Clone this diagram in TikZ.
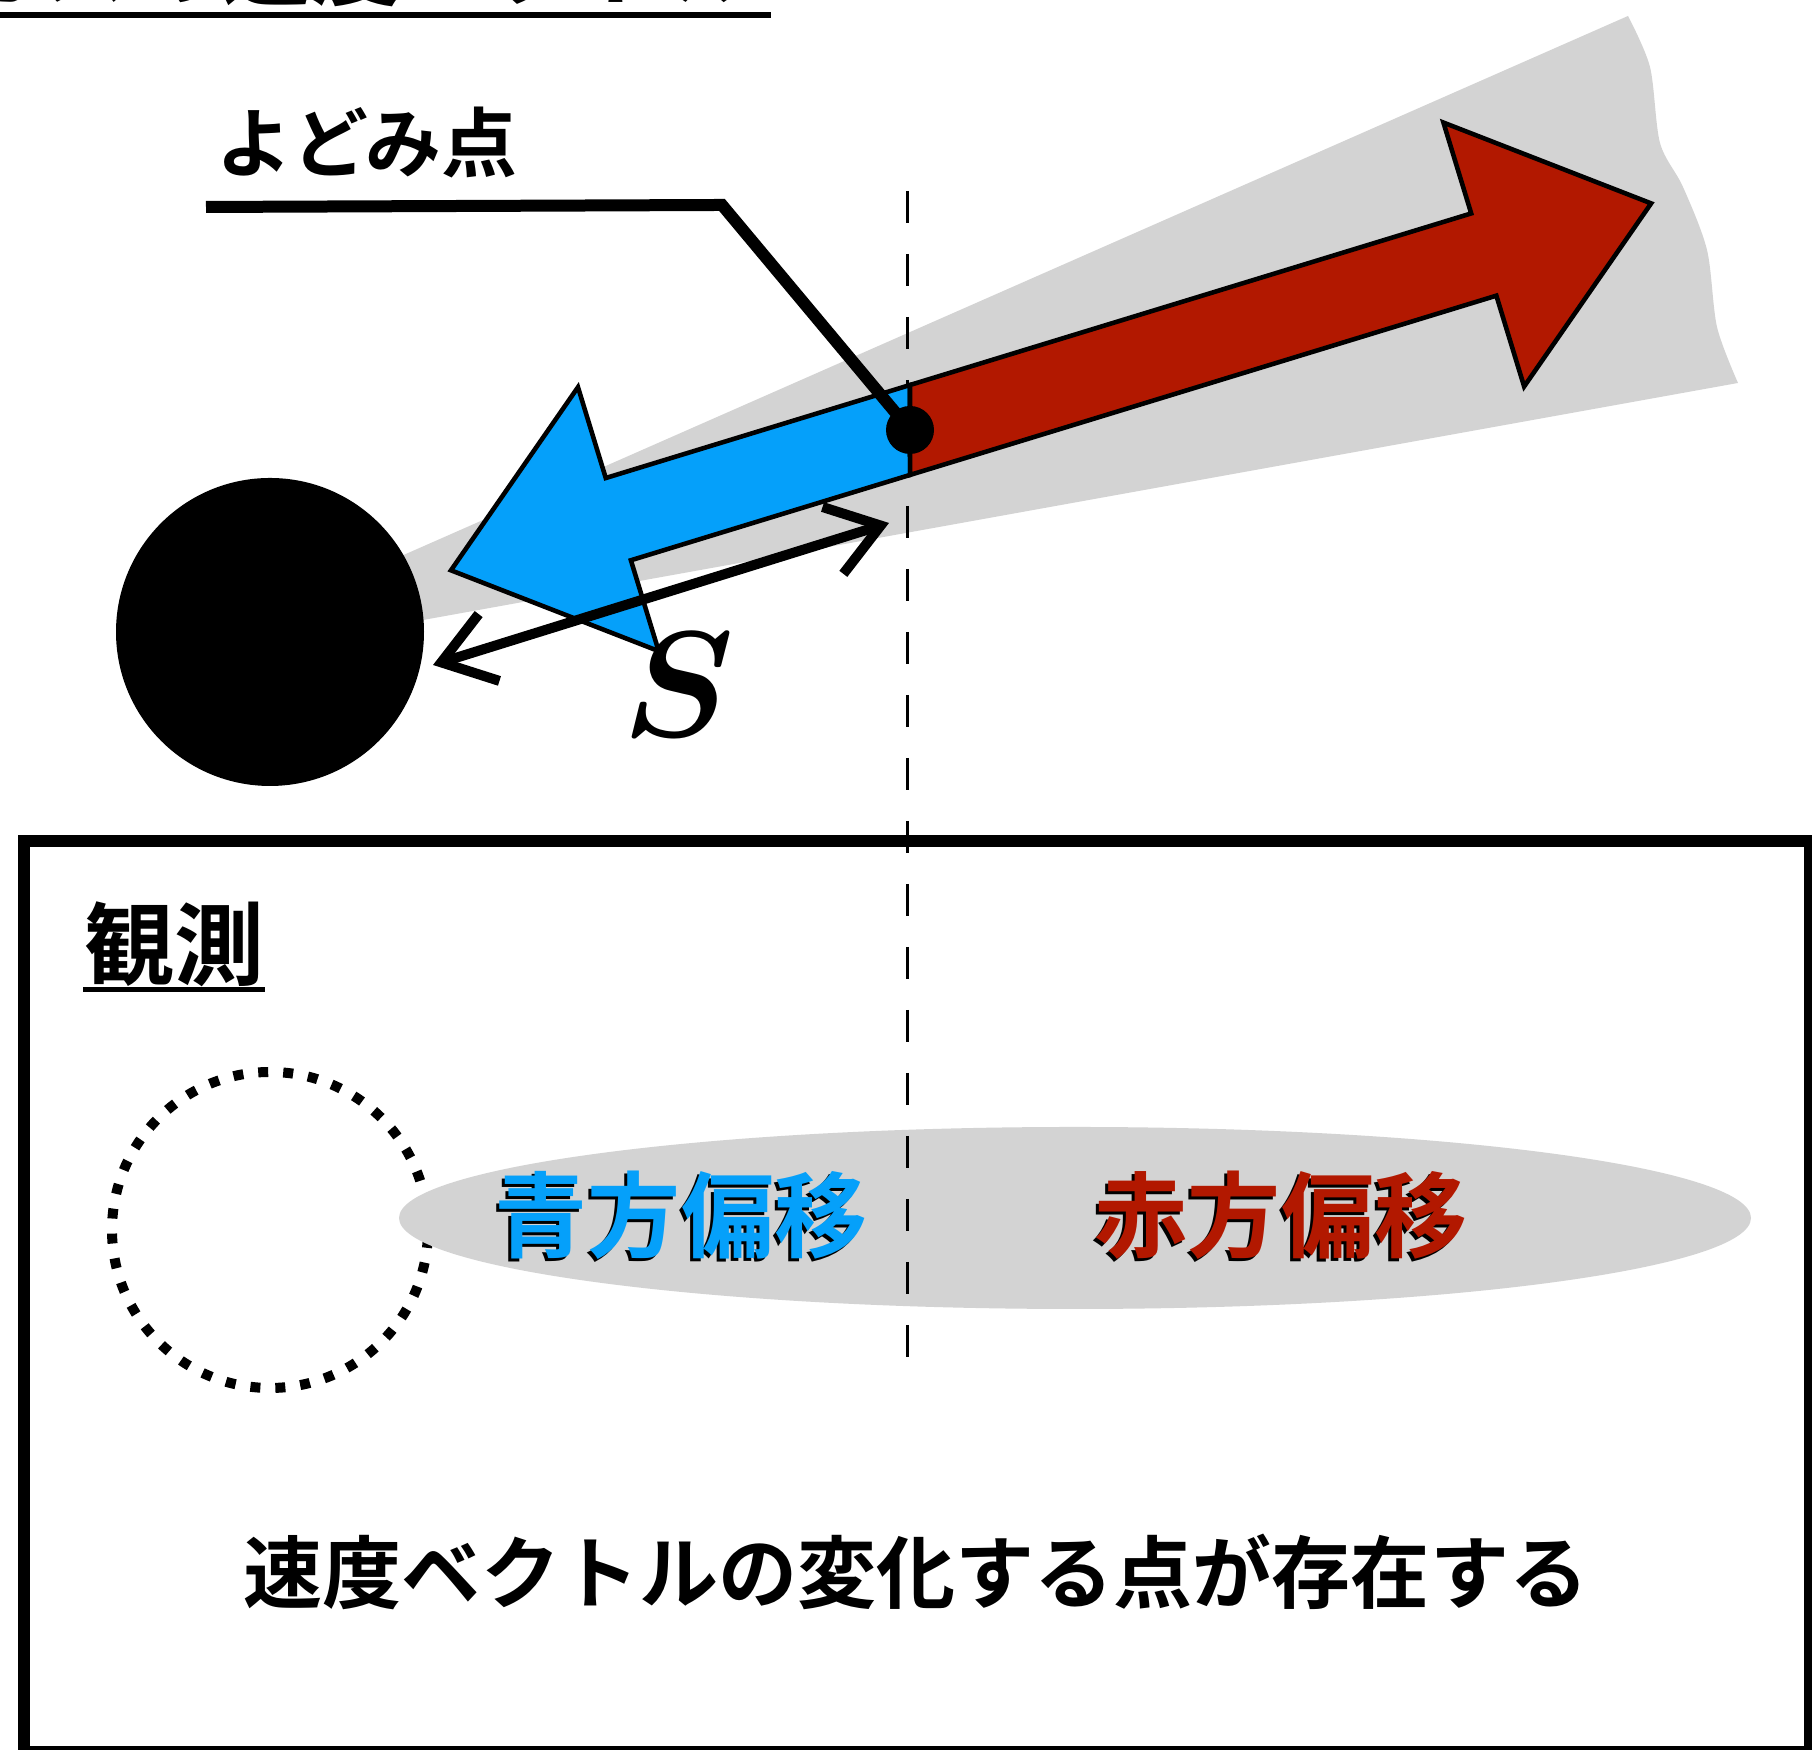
\documentclass[tikz,border=0pt]{standalone}
\usepackage{fontspec}
\newfontfamily\jp{Noto Sans CJK JP}[BoldFont=* Bold]
\usepackage{tikz}
\usetikzlibrary{arrows.meta}
\definecolor{conegray}{RGB}{211,211,211}
\definecolor{jetblue}{RGB}{5,160,250}
\definecolor{jetred}{RGB}{178,24,0}
\tikzstyle{blob} = [circle, fill=black, minimum size=3.08cm, inner sep=0pt]
\tikzstyle{ghost} = [circle, draw, line width=1mm, dash pattern=on 1mm off 1.5mm, minimum size=3.16cm, inner sep=0pt]
\tikzstyle{flow} = [draw=black, line width=1.3pt, line join=miter]
\tikzstyle{leader} = [line width=1.2mm]
\tikzstyle{distarrow} = [line width=1mm, <->, >={Straight Barb[length=5mm,width=7mm]}]
\tikzstyle{midline} = [line width=0.85pt, dash pattern=on 3.2mm off 3.1mm]
\tikzstyle{boxframe} = [line width=1.2mm]
\tikzstyle{jp} = [inner sep=0pt, font=\jp\bfseries\fontsize{21.6pt}{24pt}\selectfont]
\tikzstyle{head} = [inner sep=0pt, font=\jp\bfseries\fontsize{25.6pt}{30pt}\selectfont]
\tikzstyle{shiftword} = [inner sep=0pt, font=\jp\bfseries\fontsize{26.5pt}{30pt}\selectfont]

\begin{document}
\begin{tikzpicture}
    \useasboundingbox (0,0) rectangle (18.12,17.5);
    % heading, cut by the top edge
    \begin{scope}
        \clip (0,0) rectangle (18.12,17.5);
        \node[head, anchor=base east] (title) at (7.62,17.51) {ガスの速度ベクトル};
    \end{scope}
    \draw[line width=0.6mm] (0,17.35) -- (7.71,17.35);

    % outflow cone
    \fill[conegray] (2.9,11.45) -- (16.28,17.34)
        -- plot[smooth] coordinates {(16.28,17.34) (16.50,16.83) (16.60,16.07) (16.83,15.63) (17.07,15.00) (17.17,14.23) (17.38,13.67)}
        -- (2.9,11.06) -- cycle;

    % observed picture
    \node[ghost] (ghost) at (2.70,5.20) {};
    \fill[conegray] (10.75,5.32) ellipse [x radius=6.76, y radius=0.91];

    \coordinate (cuttop) at (9.07,15.59);
    \coordinate (cutbot) at (9.07,3.75);
    \draw[midline] (cuttop) -- (cutbot);

    \node[blob] (star) at (2.70,11.18) {};

    % velocity arrows along the jet axis
    \begin{scope}[shift={(9.10,13.20)}, rotate=17]
        \filldraw[flow, fill=jetblue] (0.131,0.43) -- (-3.05,0.43) -- (-3.05,1.38) -- (-4.80,0)
            -- (-3.05,-1.38) -- (-3.05,-0.43) -- (-0.131,-0.43) -- cycle;
        \filldraw[flow, fill=jetred] (-0.131,-0.43) -- (6.0,-0.43) -- (6.0,-1.38) -- (7.75,0)
            -- (6.0,1.38) -- (6.0,0.43) -- (0.131,0.43) -- cycle;
    \end{scope}

    \node[circle, fill=black, minimum size=0.48cm, inner sep=0pt] (stag) at (9.10,13.20) {};
    \node[jp] (stagtext) at (3.67,16.07) {よどみ点};
    \coordinate (lead0) at (2.06,15.43);
    \coordinate (lead1) at (7.22,15.45);
    \draw[leader] (lead0) -- (lead1) -- (stag.center);

    \coordinate (sfar) at (4.33,10.85);
    \coordinate (snear) at (8.89,12.27);
    \draw[distarrow] (sfar) -- (snear);
    \node[font=\Huge\boldmath, scale=1.72] (slabel) at (6.79,10.65) {$S$};

    % observation box
    \draw[boxframe] (0.24,-0.02) rectangle (18.10,9.09);
    \node[head] (obs) at (1.74,8.06) {観測};
    \draw[line width=0.5mm] ([yshift=-0.02cm]obs.south west) -- ([yshift=-0.02cm]obs.south east);

    \node[shiftword, text=black] (blueshade) at (6.78,5.32) {青方偏移};
    \node[shiftword, text=jetblue] (bluetext) at (6.81,5.35) {青方偏移};
    \node[shiftword, text=black] (redshade) at (12.78,5.32) {赤方偏移};
    \node[shiftword, text=jetred] (redtext) at (12.81,5.35) {赤方偏移};

    \node[jp, font=\jp\bfseries\fontsize{22.5pt}{26pt}\selectfont] (note) at (9.16,1.78) {速度ベクトルの変化する点が存在する};
\end{tikzpicture}
\end{document}
